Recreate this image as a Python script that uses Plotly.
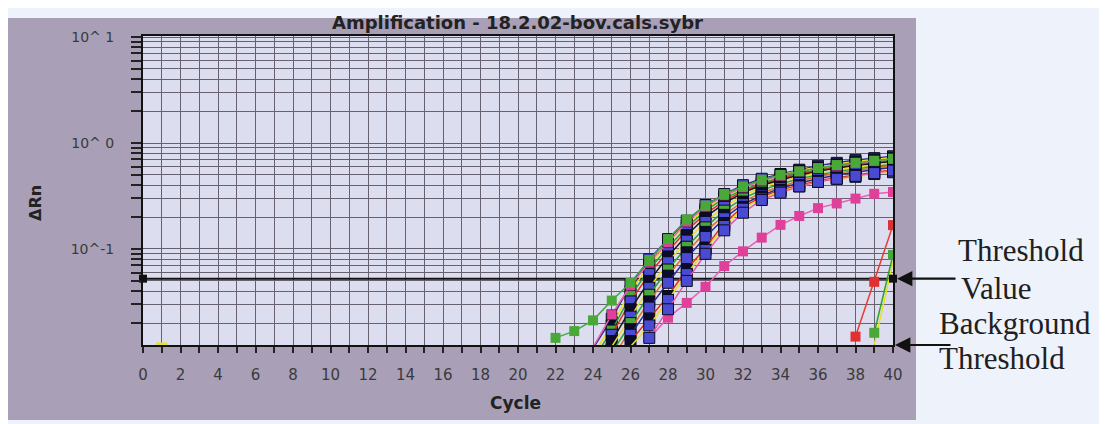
import math
import plotly.graph_objects as go

# ---------------- data ----------------
cycles_all = list(range(0, 41))

threshold_value = 0.0525

# leading green curve (cycles 22..40)
green_lead_x = list(range(22, 41))
green_lead_y = [0.0145, 0.0168, 0.0212, 0.0326, 0.048, 0.0787, 0.124, 0.19, 0.257,
                0.33, 0.39, 0.45, 0.50, 0.54, 0.58, 0.62, 0.65, 0.68, 0.71]

# early pink curve (cycles 24..40)
pink_early_x = list(range(24, 41))
pink_early_y = [0.0118, 0.024, 0.045, 0.075, 0.115, 0.18, 0.25, 0.32, 0.38, 0.44,
                0.49, 0.54, 0.58, 0.61, 0.65, 0.68, 0.71]

# late pink curve (cycles 27..40)
pink_late_x = list(range(27, 41))
pink_late_y = [0.0143, 0.0225, 0.031, 0.044, 0.069, 0.095, 0.128, 0.169, 0.205,
               0.243, 0.269, 0.299, 0.332, 0.345]

# main bundle of curves: (first cycle, values)
bundle_start = [24, 24, 24, 24, 25, 25, 25, 25, 26, 26, 26, 27]
bundle_values = [
    [0.0115, 0.022, 0.046, 0.080, 0.124, 0.185, 0.26, 0.33, 0.40, 0.46, 0.51, 0.56, 0.61, 0.65, 0.69, 0.72, 0.75],
    [0.010, 0.019, 0.040, 0.070, 0.112, 0.17, 0.24, 0.31, 0.38, 0.44, 0.50, 0.55, 0.59, 0.63, 0.67, 0.70, 0.73],
    [0.009, 0.017, 0.036, 0.064, 0.104, 0.16, 0.23, 0.30, 0.36, 0.42, 0.47, 0.52, 0.56, 0.60, 0.63, 0.66, 0.69],
    [0.008, 0.0155, 0.032, 0.058, 0.095, 0.15, 0.215, 0.285, 0.35, 0.41, 0.46, 0.51, 0.55, 0.59, 0.62, 0.65, 0.68],
    [0.0135, 0.027, 0.050, 0.085, 0.135, 0.20, 0.27, 0.34, 0.40, 0.45, 0.50, 0.54, 0.58, 0.61, 0.64, 0.67],
    [0.012, 0.023, 0.043, 0.075, 0.12, 0.18, 0.25, 0.32, 0.38, 0.43, 0.48, 0.52, 0.56, 0.59, 0.62, 0.65],
    [0.0105, 0.020, 0.037, 0.064, 0.105, 0.16, 0.23, 0.30, 0.36, 0.41, 0.46, 0.50, 0.54, 0.57, 0.60, 0.63],
    [0.009, 0.0175, 0.032, 0.056, 0.093, 0.145, 0.21, 0.28, 0.34, 0.39, 0.44, 0.48, 0.52, 0.55, 0.58, 0.61],
    [0.0155, 0.028, 0.048, 0.082, 0.13, 0.195, 0.265, 0.32, 0.375, 0.42, 0.46, 0.50, 0.53, 0.56, 0.59],
    [0.0135, 0.022, 0.036, 0.064, 0.103, 0.176, 0.25, 0.31, 0.36, 0.40, 0.44, 0.47, 0.50, 0.53, 0.56],
    [0.012, 0.019, 0.033, 0.058, 0.098, 0.165, 0.24, 0.30, 0.35, 0.39, 0.43, 0.46, 0.48, 0.51, 0.53],
    [0.0145, 0.027, 0.05, 0.09, 0.15, 0.22, 0.29, 0.34, 0.39, 0.43, 0.46, 0.49, 0.52, 0.55],
]
bundle_marker = ["#4a4ad2", "#0c0c2a", "#4aa838", "#4a4ad2", "#0c0c2a", "#4a4ad2",
                 "#4aa838", "#0c0c2a", "#4a4ad2", "#0c0c2a", "#4a4ad2", "#4a4ad2"]
bundle_line = ["#2a2a90", "#e8e020", "#30a030", "#e03020", "#1a1a1a", "#e8e020",
               "#30a030", "#e07020", "#2a2a90", "#e03020", "#e8e020", "#e85aa8"]

# late curves
red_late_x = [38, 39, 40]
red_late_y = [0.0149, 0.049, 0.168]
green_late_x = [39, 40]
green_late_y = [0.0162, 0.088]
yellow_late_x = [39, 40]
yellow_late_y = [0.0125, 0.075]

# y tick labels
y_major = [0.1, 1, 10]
y_major_text = ["10^-1", "10^ 0", "10^ 1"]

# ---------------- figure ----------------
OFF = 8                      # page body margin
W, H = 1107 - OFF, 424 - OFF
L, T = 143 - OFF, 36 - OFF
PW, PH = 750, 309
R = W - L - PW
B = H - T - PH

def px_x(p):                 # reference-page pixel -> paper x
    return (p - OFF - L) / PW

def px_y(p):                 # reference-page pixel -> paper y
    return (T + PH - (p - OFF)) / PH

fig = go.Figure()

# threshold line
fig.add_trace(go.Scatter(x=[0, 40], y=[threshold_value, threshold_value], mode="lines",
                         line=dict(color="#111111", width=2), showlegend=False, hoverinfo="skip"))

# yellow stray point near origin
fig.add_trace(go.Scatter(x=[1], y=[0.0127], mode="markers",
                         marker=dict(symbol="line-ew", size=8, line=dict(color="#e8e030", width=3)),
                         showlegend=False, cliponaxis=False))

# late curves
fig.add_trace(go.Scatter(x=yellow_late_x, y=yellow_late_y, mode="lines",
                         line=dict(color="#e8e020", width=1.5), showlegend=False))
fig.add_trace(go.Scatter(x=green_late_x, y=green_late_y, mode="lines+markers",
                         line=dict(color="#30a030", width=1.5),
                         marker=dict(symbol="square", size=10, color="#4aa838"), showlegend=False))
fig.add_trace(go.Scatter(x=red_late_x, y=red_late_y, mode="lines+markers",
                         line=dict(color="#e83a30", width=1.5),
                         marker=dict(symbol="square", size=10, color="#e03030"), showlegend=False))

# late pink
fig.add_trace(go.Scatter(x=pink_late_x, y=pink_late_y, mode="lines+markers",
                         line=dict(color="#e860b0", width=1.5),
                         marker=dict(symbol="square", size=10, color="#e0409a"), showlegend=False))

# bundle
for start, vals, mc, lc in zip(bundle_start, bundle_values, bundle_marker, bundle_line):
    xs = list(range(start, start + len(vals)))
    fig.add_trace(go.Scatter(x=xs, y=vals, mode="lines+markers",
                             line=dict(color=lc, width=1.5),
                             marker=dict(symbol="square", size=11, color=mc,
                                         line=dict(color="#0a0a20", width=1)),
                             showlegend=False))

# early pink and green leader
fig.add_trace(go.Scatter(x=pink_early_x, y=pink_early_y, mode="lines+markers",
                         line=dict(color="#e860b0", width=1.5),
                         marker=dict(symbol="square", size=10, color="#e0409a",
                                     line=dict(color="#0a0a20", width=0.5)),
                         showlegend=False))
fig.add_trace(go.Scatter(x=green_lead_x, y=green_lead_y, mode="lines+markers",
                         line=dict(color="#40a840", width=1.5),
                         marker=dict(symbol="square", size=10, color="#4aa838"),
                         showlegend=False))

# threshold handles
fig.add_trace(go.Scatter(x=[0, 40], y=[threshold_value, threshold_value], mode="markers",
                         marker=dict(symbol="square", size=8, color="#111111"),
                         showlegend=False, cliponaxis=False))

# tick values
y_tickvals = []
for d in [0.01, 0.1, 1]:
    for m in range(1, 10):
        v = round(m * d, 4)
        if v >= 0.013:
            y_tickvals.append(v)
y_tickvals.append(10)
y_ticktext = [y_major_text[y_major.index(v)] if v in y_major else "" for v in y_tickvals]

x_ticktext = [str(c) if c % 2 == 0 else "" for c in cycles_all]

grid_col = "#67616f"
fig.update_xaxes(range=[0, 40], tickvals=cycles_all, ticktext=x_ticktext,
                 showgrid=True, gridcolor=grid_col, gridwidth=1,
                 ticks="outside", ticklen=6, tickwidth=2, tickcolor="#222222",
                 showline=True, linecolor="#111111", linewidth=2, mirror=True,
                 zeroline=False, ticklabelstandoff=9,
                 tickfont=dict(family="DejaVu Sans", size=15, color="#3a3a3a"))
fig.update_yaxes(type="log", range=[-1.906, 1.01], tickvals=y_tickvals, ticktext=y_ticktext,
                 showgrid=True, gridcolor=grid_col, gridwidth=1,
                 ticks="outside", ticklen=10, tickwidth=2, tickcolor="#222222",
                 showline=True, linecolor="#111111", linewidth=2, mirror=True,
                 zeroline=False, ticklabelstandoff=14,
                 tickfont=dict(family="DejaVu Sans", size=14, color="#3a3a3a"))

# page areas around the grey panel
page_col = "#eef2fa"
for x0, x1, y0, y1 in [(916, 1200, -40, 500), (-40, 1200, -40, 18), (-40, 1200, 420, 500)]:
    fig.add_shape(type="rect", xref="paper", yref="paper",
                  x0=px_x(x0), x1=px_x(x1), y0=px_y(y1), y1=px_y(y0),
                  fillcolor=page_col, line=dict(width=0), layer="below")

annotations = [
    dict(text="<b>Amplification - 18.2.02-bov.cals.sybr</b>", x=px_x(517), y=px_y(23),
         xref="paper", yref="paper", showarrow=False, xanchor="center", yanchor="middle",
         font=dict(family="DejaVu Sans", size=18, color="#222222")),
    dict(text="<b>ΔRn</b>", x=px_x(35), y=px_y(203), xref="paper", yref="paper",
         showarrow=False, textangle=-90, xanchor="center", yanchor="middle",
         font=dict(family="DejaVu Sans", size=16, color="#222222")),
    dict(text="<b>Cycle</b>", x=px_x(515), y=px_y(403), xref="paper", yref="paper",
         showarrow=False, xanchor="center", yanchor="middle",
         font=dict(family="DejaVu Sans", size=17, color="#222222")),
]
serif = dict(family="Liberation Serif", size=31, color="#202020")
for txt, lx, cy in [("Threshold", 956, 250), ("Value", 959, 288),
                    ("Background", 937, 323), ("Threshold", 937, 359)]:
    annotations.append(dict(text=txt, x=px_x(lx), y=px_y(cy), xref="paper", yref="paper",
                            showarrow=False, xanchor="left", yanchor="middle", font=serif))
# arrows
annotations.append(dict(text="", x=px_x(897), y=math.log10(threshold_value), xref="paper", yref="y",
                        showarrow=True, ax=60, ay=0, arrowhead=2, arrowsize=1.4,
                        arrowwidth=2.2, arrowcolor="#111111"))
annotations.append(dict(text="", x=px_x(895), y=0, xref="paper", yref="paper",
                        showarrow=True, ax=57, ay=0, arrowhead=2, arrowsize=1.4,
                        arrowwidth=2.2, arrowcolor="#111111"))

fig.update_layout(width=W, height=H, margin=dict(l=L, r=R, t=T, b=B),
                  paper_bgcolor="#a9a0b8", plot_bgcolor="#dcdef0",
                  annotations=annotations, showlegend=False)

fig.write_html("out.html")
